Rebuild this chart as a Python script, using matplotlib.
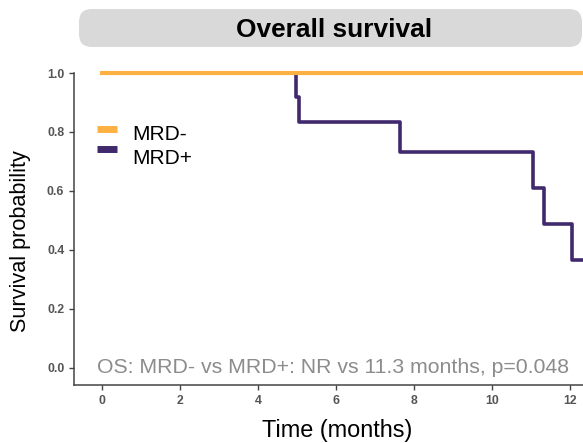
import matplotlib
matplotlib.use("Agg")
import matplotlib.pyplot as plt
from matplotlib.patches import FancyBboxPatch
from matplotlib.lines import Line2D

plt.rcParams['font.family'] = ['Liberation Sans', 'DejaVu Sans']

# Kaplan-Meier step data (months, survival probability)
neg_times = [0.0, 12.33]
neg_surv = [1.0, 1.0]
pos_times = [0.0, 4.98, 5.06, 7.65, 11.05, 11.33, 12.05, 12.33]
pos_surv = [1.0, 0.917, 0.833, 0.733, 0.611, 0.489, 0.367, 0.367]

group_labels = ["MRD-", "MRD+"]
colors = ["#FDB143", "#40296C"]

x_ticks = [0, 2, 4, 6, 8, 10, 12]
y_ticks = [0.0, 0.2, 0.4, 0.6, 0.8, 1.0]

W, H = 583, 443
fig = plt.figure(figsize=(W / 100, H / 100), dpi=100)

# overlay in pixel units for the banner and legend
ov = fig.add_axes([0, 0, 1, 1], zorder=5)
ov.set_xlim(0, W)
ov.set_ylim(H, 0)
ov.axis('off')
ov.patch.set_alpha(0)

ax_left, ax_bottom_px, ax_top_px = 74, 385, 73
ax_w_px = W - ax_left
ax_h_px = ax_bottom_px - ax_top_px
ax = fig.add_axes([ax_left / W, 1 - ax_bottom_px / H, ax_w_px / W, ax_h_px / H])

ax.step(pos_times, pos_surv, where='post', color=colors[1], lw=2.6,
        clip_on=False, zorder=3)
ax.step(neg_times, neg_surv, where='post', color=colors[0], lw=3.0,
        clip_on=False, zorder=4)

ax.set_xlim(-0.72, 12.33)
ax.set_ylim(-0.058, 1.0)
ax.set_xticks(x_ticks)
ax.set_yticks(y_ticks)
ax.set_xticklabels([str(t) for t in x_ticks])
ax.set_yticklabels([f"{t:.1f}" for t in y_ticks])
for s in ['top', 'right']:
    ax.spines[s].set_visible(False)
for s in ['left', 'bottom']:
    ax.spines[s].set_color('#444444')
    ax.spines[s].set_linewidth(1.1)
ax.tick_params(axis='both', length=3.5, width=1.0, color='#444444',
               labelsize=8.8, labelcolor='#555555')
ax.tick_params(axis='x', pad=4)
ax.tick_params(axis='y', pad=3.5)
for lab in ax.get_xticklabels() + ax.get_yticklabels():
    lab.set_fontweight('bold')

ax.set_xlabel("Time (months)", fontsize=16.9, va='center')
ax.xaxis.set_label_coords((337.5 - ax_left) / ax_w_px,
                          -(430 - ax_bottom_px) / ax_h_px)
ax.set_ylabel("Survival probability", fontsize=15.6, va='center')
ax.yaxis.set_label_coords((21 - ax_left) / ax_w_px,
                          (ax_bottom_px - 241) / ax_h_px)

ax.text(5.93, 0.0, "OS: MRD- vs MRD+: NR vs 11.3 months, p=0.048",
        color='#8C8C8C', fontsize=15.3, ha='center', va='center')

# legend drawn by hand
for (yh, yt, c, lab) in [(128.5, 135, colors[0], group_labels[0]),
                         (149, 158, colors[1], group_labels[1])]:
    ov.add_line(Line2D([97, 117], [yh, yh], color=c, lw=5,
                       solid_capstyle='butt'))
    ov.text(132, yt, lab, fontsize=15, va='center', ha='left')

# title banner
ov.add_patch(FancyBboxPatch((79, 9), 503, 38,
                            boxstyle="round,pad=0,rounding_size=13",
                            facecolor='#D9D9D9', edgecolor='none'))
ov.text(334, 29.5, "Overall survival", fontsize=18.9, fontweight='bold',
        ha='center', va='center')

fig.savefig("out.png", dpi=100)
